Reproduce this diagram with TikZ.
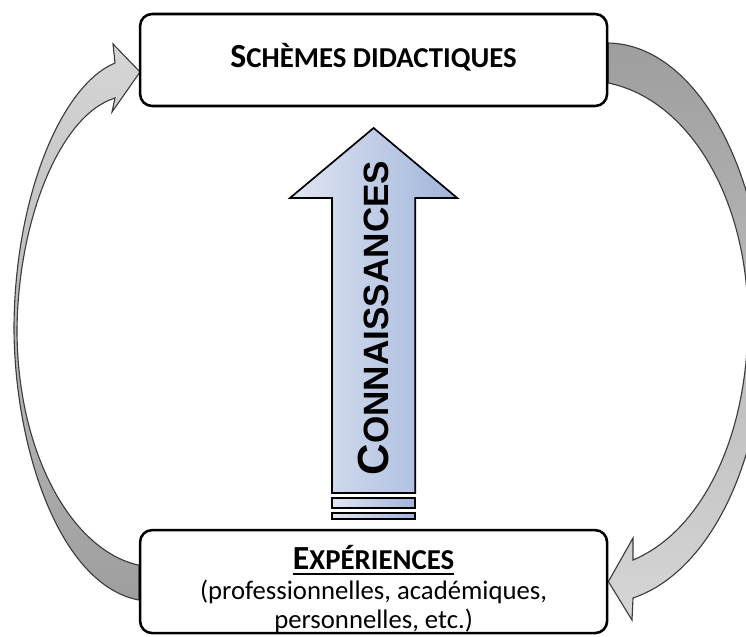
\documentclass[tikz,border=0pt]{standalone}
\usepackage{fontspec}
\setmainfont{Carlito}
\newfontfamily\knowfont{Liberation Sans}
\usetikzlibrary{calc, backgrounds}
\definecolor{knowlight}{RGB}{224, 230, 242}
\definecolor{knowdark}{RGB}{160, 180, 218}
\definecolor{loopdark}{RGB}{158, 158, 158}
\definecolor{looplight}{RGB}{214, 214, 214}
\definecolor{loopedge}{RGB}{60, 60, 60}

% thick underline for the box heading
\newcommand{\thickul}[1]{{\setbox0\hbox{#1}\rlap{\rule[-4pt]{\wd0}{1.3pt}}\box0}}

\begin{document}
\begin{tikzpicture}[
    x=1cm, y=1cm,
    stage/.style={
        rectangle, rounded corners=0.3cm, draw, fill=white, line width=1.8pt,
        minimum width=11.675cm, align=center, inner sep=0pt
    },
    loop/.style={draw=loopedge, line width=0.8pt},
    shaft/.style={draw=black, line width=1.2pt, left color=knowlight, right color=knowdark}
]
    \useasboundingbox (0,0) rectangle (18.65,15.9);

    \node[stage, minimum height=2.3cm, font=\bfseries] (schemes) at (9.34,14.4)
        {\rule[-6pt]{0pt}{0pt}{\fontsize{24}{26}\selectfont S}{\fontsize{20.5}{22}\selectfont CHÈMES DIDACTIQUES}};
    \node[stage, minimum height=2.575cm, font=\fontsize{19}{21}\selectfont] (exp) at (9.34,1.36)
        {\rule{0pt}{28pt}\thickul{\bfseries{\fontsize{24}{24}\selectfont E}\fontsize{20.5}{21}\selectfont XPÉRIENCES}\\
         (professionnelles, académiques,\\ personnelles, etc.)};

    % big arrow in the middle
    \coordinate (foot) at (9.34,3.575);
    \coordinate (neck) at (9.34,10.95);
    \coordinate (tip)  at (9.34,12.7);

    \shadedraw[shaft] ($(foot)+(-1.04,0)$) -- ($(neck)+(-1.04,0)$) -- ($(neck)+(-2.09,0)$)
        -- (tip) -- ($(neck)+(2.09,0)$) -- ($(neck)+(1.04,0)$) -- ($(foot)+(1.04,0)$) -- cycle;
    \shadedraw[shaft] ($(foot)+(-1.04,-0.375)$) rectangle ($(foot)+(1.04,-0.125)$);
    \shadedraw[shaft] ($(foot)+(-1.04,-0.65)$) rectangle ($(foot)+(1.04,-0.5)$);

    \node[rotate=90, font=\knowfont\bfseries] (know) at (9.34,7.95)
        {{\fontsize{31}{34}\selectfont C}{\fontsize{25}{28}\selectfont ONNAISSANCES}};

    \begin{scope}[on background layer]
        \clip (0,0) rectangle (18.65,15.9);
        % left loop: experiences -> schemes
        \shadedraw[loop, top color=looplight, bottom color=loopdark]
            ($(exp.west)+(0,-0.46)$) .. controls (1.5,1.275) and (0.375,4.65) .. (0.35,7.65)
            .. controls (0.35,10.9) and (1.5,13.75) .. (2.875,14.325)
            -- (2.825,14.8) -- ($(schemes.west)+(0.03,-0.3)$) -- (2.8,13.1) -- (2.875,13.45)
            .. controls (1.5,13.025) and (0.45,10.4) .. (0.425,7.65)
            .. controls (0.425,4.65) and (1.75,2.15) .. ($(exp.west)+(0,0.41)$) -- cycle;
        % right loop: schemes -> experiences
        \shadedraw[loop, top color=loopdark, bottom color=looplight]
            ($(schemes.east)+(0,0.425)$) .. controls (17.5,14.775) and (19.125,11.4) .. (19.125,7.9)
            .. controls (19.125,4.4) and (17.75,1.6) .. (15.825,0.95)
            -- (15.8,0.4) -- (exp.east) -- (15.825,2.45) -- (15.825,1.9)
            .. controls (17.5,2.6) and (18.7,4.9) .. (18.7,7.9)
            .. controls (18.7,10.9) and (17.25,13.4) .. ($(schemes.east)+(0,-0.575)$) -- cycle;
    \end{scope}
\end{tikzpicture}
\end{document}
